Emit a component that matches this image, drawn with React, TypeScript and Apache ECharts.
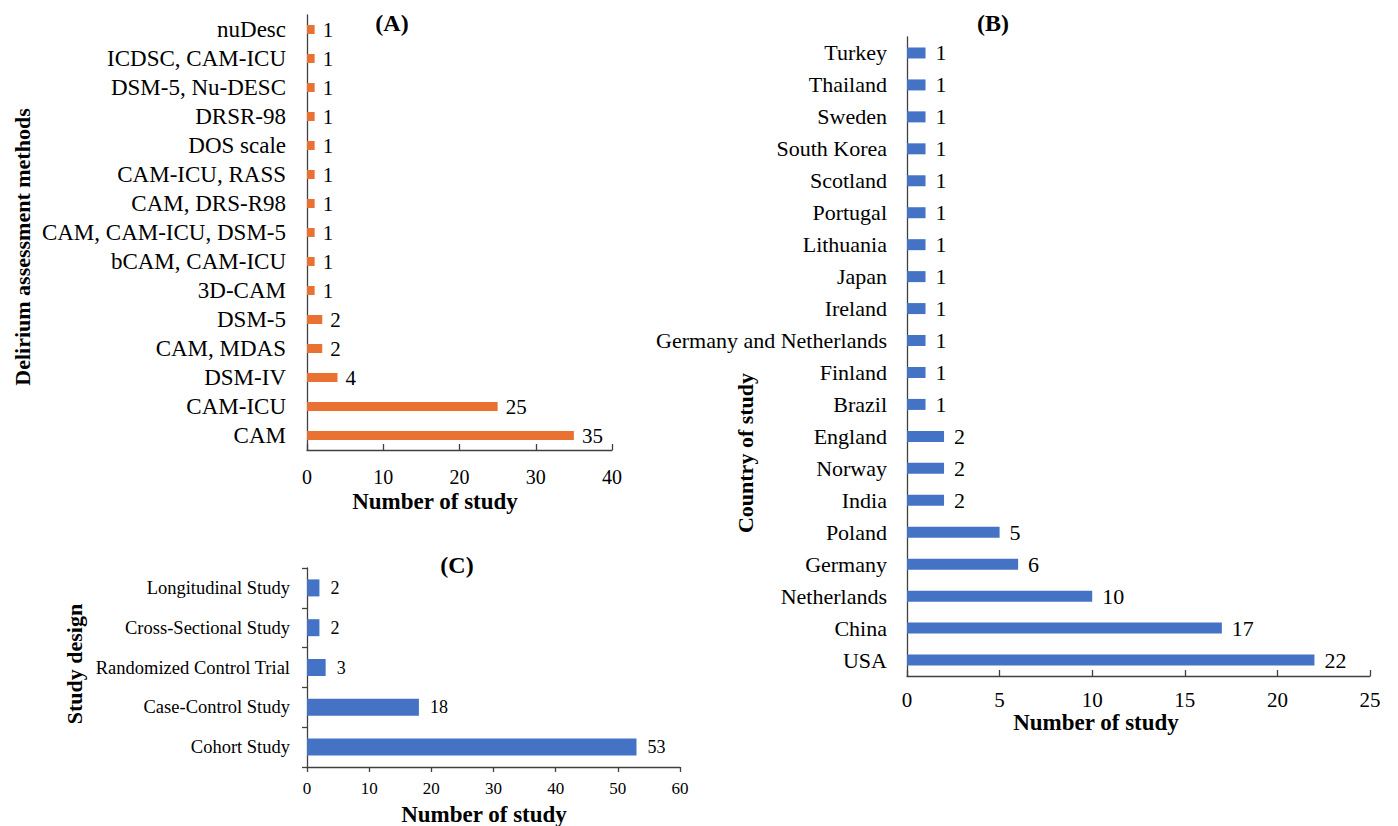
import React, { useEffect, useRef } from "react";
import * as echarts from "echarts";

// Panel A: delirium assessment methods (bottom to top)
const methodCategories = [
  "CAM", "CAM-ICU", "DSM-IV", "CAM, MDAS", "DSM-5", "3D-CAM", "bCAM, CAM-ICU",
  "CAM, CAM-ICU, DSM-5", "CAM, DRS-R98", "CAM-ICU, RASS", "DOS scale", "DRSR-98",
  "DSM-5, Nu-DESC", "ICDSC, CAM-ICU", "nuDesc",
];
const methodValues = [35, 25, 4, 2, 2, 1, 1, 1, 1, 1, 1, 1, 1, 1, 1];

// Panel B: country of study (bottom to top)
const countryCategories = [
  "USA", "China", "Netherlands", "Germany", "Poland", "India", "Norway", "England",
  "Brazil", "Finland", "Germany and Netherlands", "Ireland", "Japan", "Lithuania",
  "Portugal", "Scotland", "South Korea", "Sweden", "Thailand", "Turkey",
];
const countryValues = [22, 17, 10, 6, 5, 2, 2, 2, 1, 1, 1, 1, 1, 1, 1, 1, 1, 1, 1, 1];

// Panel C: study design (bottom to top)
const designCategories = [
  "Cohort Study", "Case-Control Study", "Randomized Control Trial",
  "Cross-Sectional Study", "Longitudinal Study",
];
const designValues = [53, 18, 3, 2, 2];

const FONT = "Liberation Serif";
const AXIS_COLOR = "#404040";
const ORANGE = "#E97132";
const BLUE = "#4472C4";

export default function App() {
  const ref = useRef<HTMLDivElement>(null);

  useEffect(() => {
    if (!ref.current) return;
    const chart = echarts.init(ref.current, undefined, { renderer: "svg" });

    const valueAxis = (
      gridIndex: number,
      max: number,
      interval: number,
      fontSize: number,
      margin: number,
      inside: boolean
    ) => ({
      type: "value",
      gridIndex,
      min: 0,
      max,
      interval,
      splitLine: { show: false },
      axisLine: { show: true, lineStyle: { color: AXIS_COLOR, width: 1.3 } },
      axisTick: { show: true, inside, length: inside ? 6 : 5, lineStyle: { color: AXIS_COLOR, width: 1.3 } },
      axisLabel: { color: "#000", fontFamily: FONT, fontSize, margin },
    });

    const catAxis = (
      gridIndex: number,
      data: string[],
      fontSize: number,
      margin: number,
      showTicks: boolean
    ) => ({
      type: "category",
      gridIndex,
      data,
      axisLine: { show: true, lineStyle: { color: AXIS_COLOR, width: 1.3 } },
      axisTick: { show: showTicks, interval: 0, length: 5, lineStyle: { color: AXIS_COLOR, width: 1.3 } },
      axisLabel: { color: "#000", fontFamily: FONT, fontSize, margin, interval: 0, hideOverlap: false },
    });

    const bar = (
      xi: number,
      values: number[],
      color: string,
      barWidth: number,
      fontSize: number,
      distance: number
    ) => ({
      type: "bar",
      xAxisIndex: xi,
      yAxisIndex: xi,
      data: values,
      barWidth,
      itemStyle: { color },
      label: {
        show: true,
        position: "right",
        distance,
        color: "#000",
        fontFamily: FONT,
        fontSize,
      },
    });

    const title = (text: string, x: number, y: number, fontSize: number, rotate = false) => ({
      type: "text",
      x,
      y,
      rotation: rotate ? Math.PI / 2 : 0,
      style: {
        text,
        fill: "#000",
        fontFamily: FONT,
        fontWeight: "bold",
        fontSize,
        textAlign: "center",
        textVerticalAlign: "middle",
      },
    });

    chart.setOption({
      animation: false,
      backgroundColor: "#fff",
      grid: [
        { left: 307, top: 15, width: 305, height: 435, containLabel: false },
        { left: 907, top: 37, width: 463, height: 639, containLabel: false },
        { left: 307, top: 568, width: 373, height: 199, containLabel: false },
      ],
      xAxis: [
        valueAxis(0, 40, 10, 20, 17, true),
        valueAxis(1, 25, 5, 21, 13, true),
        valueAxis(2, 60, 10, 17, 13, false),
      ],
      yAxis: [
        catAxis(0, methodCategories, 23, 21, false),
        catAxis(1, countryCategories, 22, 20, false),
        catAxis(2, designCategories, 18.5, 17, true),
      ],
      series: [
        bar(0, methodValues, ORANGE, 9, 21, 8),
        bar(1, countryValues, BLUE, 11, 22, 10),
        bar(2, designValues, BLUE, 17, 18, 11),
      ],
      graphic: [
        title("(A)", 392, 23, 24),
        title("(B)", 993, 23, 24),
        title("(C)", 457, 565, 24),
        title("Delirium assessment methods", 22, 247, 22, true),
        title("Country of study", 745, 453, 22, true),
        title("Study design", 74, 664, 22, true),
        title("Number of study", 435, 501, 23),
        title("Number of study", 1096, 722, 23),
        title("Number of study", 484, 814, 23),
      ],
    });

    return () => chart.dispose();
  }, []);

  return (
    <div
      ref={ref}
      style={{ position: "fixed", left: 0, top: 0, width: 1398, height: 826, background: "#fff" }}
    />
  );
}
